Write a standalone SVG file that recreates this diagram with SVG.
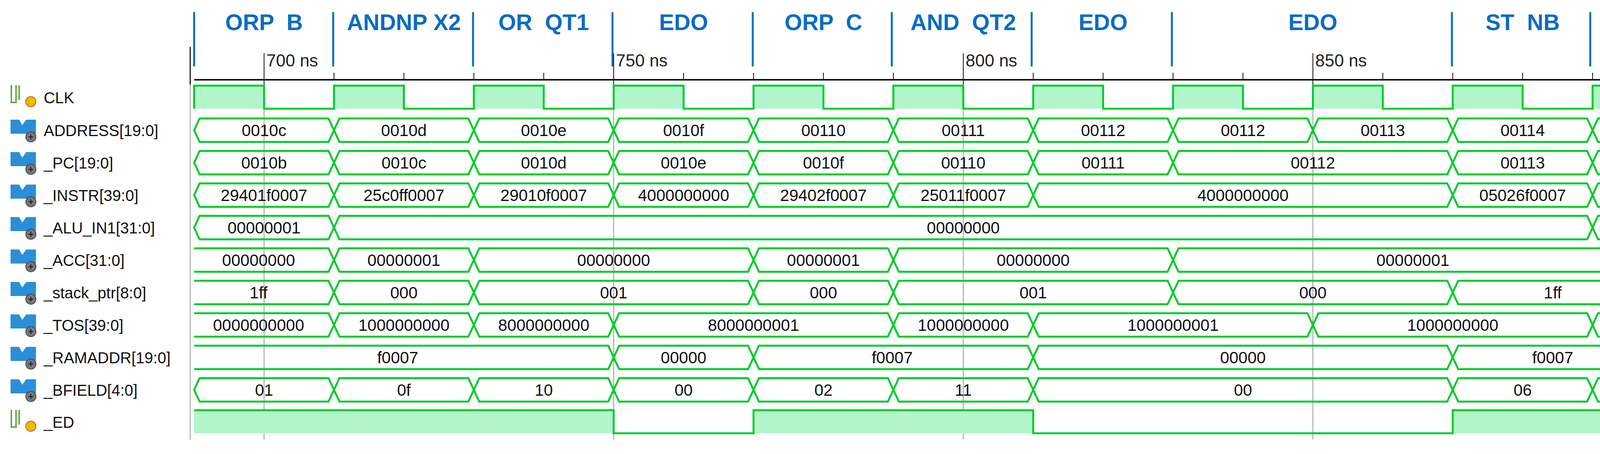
<svg xmlns="http://www.w3.org/2000/svg" width="4261" height="1161" viewBox="0 0 4261 1161">
<style>
.bus{fill:none;stroke:#00cc2a;stroke-width:5;stroke-linejoin:miter}
.sig{fill:#b3f5cb;stroke:none}
.wl{fill:none;stroke:#00cc2a;stroke-width:5}
.v{font-family:"Liberation Sans",Arial,sans-serif;font-size:42px;fill:#111;text-anchor:middle}
.vl{font-family:"Liberation Sans",Arial,sans-serif;font-size:40px;fill:#111}
.n{font-family:"Liberation Sans",Arial,sans-serif;font-size:40px;fill:#111}
.hd{font-family:"Liberation Sans",Arial,sans-serif;font-size:58px;font-weight:bold;fill:#0a6cc4;text-anchor:middle;white-space:pre}
.tl{font-family:"Liberation Sans",Arial,sans-serif;font-size:44px;fill:#222}
.bl{stroke:#0a6cc4;stroke-width:5}
.cur{stroke:#999;stroke-width:2}
.tk{stroke:#111;stroke-width:2}
.ib{fill:#2a8fd8}
.ic{fill:#777;stroke:#444;stroke-width:2}
</style>
<defs>
<g id="busicon"><path class="ib" d="M0 0 L22 0 L30 14 L40 0 L65 0 L65 36 L0 36 Z"/><circle class="ic" cx="52" cy="44" r="13"/><path d="M52 38 V50 M46 44 H58" stroke="#111" stroke-width="2"/></g>
<g id="wireicon"><path d="M2 2 V46 H14 V2 M22 2 V40" fill="none" stroke="#6aa84f" stroke-width="4"/><circle cx="52" cy="44" r="13" fill="#f4b400" stroke="#a07000" stroke-width="2"/></g>
</defs>

<g id="header">
<g class="bl">
<line x1="497" y1="31" x2="497" y2="170"/><line x1="853" y1="31" x2="853" y2="170"/><line x1="1211" y1="31" x2="1211" y2="170"/><line x1="1568" y1="31" x2="1568" y2="170"/><line x1="1927" y1="31" x2="1927" y2="170"/><line x1="2283" y1="31" x2="2283" y2="170"/><line x1="2641" y1="31" x2="2641" y2="170"/><line x1="3000" y1="31" x2="3000" y2="170"/><line x1="3717" y1="31" x2="3717" y2="170"/><line x1="4071" y1="31" x2="4071" y2="170"/>
</g>
<text class="hd" x="676" y="77">ORP  B</text>
<text class="hd" x="1034" y="77">ANDNP X2</text>
<text class="hd" x="1392" y="77">OR  QT1</text>
<text class="hd" x="1750" y="77">EDO</text>
<text class="hd" x="2108" y="77">ORP  C</text>
<text class="hd" x="2466" y="77">AND  QT2</text>
<text class="hd" x="2824" y="77">EDO</text>
<text class="hd" x="3361" y="77">EDO</text>
<text class="hd" x="3898" y="77">ST  NB</text>
</g>

<g id="axis">
<line x1="487" y1="120" x2="487" y2="216" stroke="#111" stroke-width="3"/>
<line x1="487" y1="216" x2="487" y2="1124" class="cur"/>
<line x1="497" y1="204" x2="4231" y2="204" stroke="#111" stroke-width="4"/>
<g class="tk">
<line x1="855" y1="186" x2="855" y2="204"/><line x1="1034" y1="186" x2="1034" y2="204"/><line x1="1213" y1="186" x2="1213" y2="204"/><line x1="1392" y1="186" x2="1392" y2="204"/><line x1="1750" y1="186" x2="1750" y2="204"/><line x1="1929" y1="186" x2="1929" y2="204"/><line x1="2108" y1="186" x2="2108" y2="204"/><line x1="2287" y1="186" x2="2287" y2="204"/><line x1="2645" y1="186" x2="2645" y2="204"/><line x1="2824" y1="186" x2="2824" y2="204"/><line x1="3003" y1="186" x2="3003" y2="204"/><line x1="3182" y1="186" x2="3182" y2="204"/><line x1="3540" y1="186" x2="3540" y2="204"/><line x1="3719" y1="186" x2="3719" y2="204"/><line x1="3898" y1="186" x2="3898" y2="204"/><line x1="4077" y1="186" x2="4077" y2="204"/>
<line x1="676" y1="136" x2="676" y2="216"/><line x1="1571" y1="136" x2="1571" y2="216"/><line x1="2466" y1="136" x2="2466" y2="216"/><line x1="3361" y1="136" x2="3361" y2="216"/>
</g>
<line x1="676" y1="216" x2="676" y2="1124" class="cur"/><line x1="1571" y1="216" x2="1571" y2="1124" class="cur"/><line x1="2466" y1="216" x2="2466" y2="1124" class="cur"/><line x1="3361" y1="216" x2="3361" y2="1124" class="cur"/>
<text class="tl" x="682" y="170">700 ns</text>
<text class="tl" x="1577" y="170">750 ns</text>
<text class="tl" x="2472" y="170">800 ns</text>
<text class="tl" x="3367" y="170">850 ns</text>
</g>

<g id="CLK">
<use href="#wireicon" x="27" y="216"/>
<text class="n" x="112" y="264">CLK</text>
<path class="sig" d="M497 219H676V278H497Z M855 219H1034V278H855Z M1213 219H1392V278H1213Z M1571 219H1750V278H1571Z M1929 219H2108V278H1929Z M2287 219H2466V278H2287Z M2645 219H2824V278H2645Z M3003 219H3182V278H3003Z M3361 219H3540V278H3361Z M3719 219H3898V278H3719Z M4077 219H4231V278H4077Z"/>
<path class="wl" d="M497 278V219H676V278H855V219H1034V278H1213V219H1392V278H1571V219H1750V278H1929V219H2108V278H2287V219H2466V278H2645V219H2824V278H3003V219H3182V278H3361V219H3540V278H3719V219H3898V278H4077V219H4231"/>
</g>

<g id="ADDRESS" transform="translate(0,303)">
<use href="#busicon" x="27" y="3"/>
<text class="n" x="112" y="45">ADDRESS[19:0]</text>
<path class="bus" d="M497 30L511 0H841L855 30L841 60H511Z M855 30L869 0H1199L1213 30L1199 60H869Z M1213 30L1227 0H1557L1571 30L1557 60H1227Z M1571 30L1585 0H1915L1929 30L1915 60H1585Z M1929 30L1943 0H2273L2287 30L2273 60H1943Z M2287 30L2301 0H2631L2645 30L2631 60H2301Z M2645 30L2659 0H2989L3003 30L2989 60H2659Z M3003 30L3017 0H3347L3361 30L3347 60H3017Z M3361 30L3375 0H3705L3719 30L3705 60H3375Z M3719 30L3733 0H4063L4077 30L4063 60H3733Z M4231 0H4091L4077 30L4091 60H4231"/>
<text class="v" x="676" y="45">0010c</text><text class="v" x="1034" y="45">0010d</text><text class="v" x="1392" y="45">0010e</text><text class="v" x="1750" y="45">0010f</text><text class="v" x="2108" y="45">00110</text><text class="v" x="2466" y="45">00111</text><text class="v" x="2824" y="45">00112</text><text class="v" x="3182" y="45">00112</text><text class="v" x="3540" y="45">00113</text><text class="v" x="3898" y="45">00114</text><text class="vl" x="4100" y="45">00115</text>
</g>

<g id="PC" transform="translate(0,386)">
<use href="#busicon" x="27" y="3"/>
<text class="n" x="112" y="45">_PC[19:0]</text>
<path class="bus" d="M497 30L511 0H841L855 30L841 60H511Z M855 30L869 0H1199L1213 30L1199 60H869Z M1213 30L1227 0H1557L1571 30L1557 60H1227Z M1571 30L1585 0H1915L1929 30L1915 60H1585Z M1929 30L1943 0H2273L2287 30L2273 60H1943Z M2287 30L2301 0H2631L2645 30L2631 60H2301Z M2645 30L2659 0H2989L3003 30L2989 60H2659Z M3003 30L3017 0H3705L3719 30L3705 60H3017Z M3719 30L3733 0H4063L4077 30L4063 60H3733Z M4231 0H4091L4077 30L4091 60H4231"/>
<text class="v" x="676" y="45">0010b</text><text class="v" x="1034" y="45">0010c</text><text class="v" x="1392" y="45">0010d</text><text class="v" x="1750" y="45">0010e</text><text class="v" x="2108" y="45">0010f</text><text class="v" x="2466" y="45">00110</text><text class="v" x="2824" y="45">00111</text><text class="v" x="3361" y="45">00112</text><text class="v" x="3898" y="45">00113</text><text class="vl" x="4100" y="45">00114</text>
</g>

<g id="INSTR" transform="translate(0,469)">
<use href="#busicon" x="27" y="3"/>
<text class="n" x="112" y="45">_INSTR[39:0]</text>
<path class="bus" d="M497 30L511 0H841L855 30L841 60H511Z M855 30L869 0H1199L1213 30L1199 60H869Z M1213 30L1227 0H1557L1571 30L1557 60H1227Z M1571 30L1585 0H1915L1929 30L1915 60H1585Z M1929 30L1943 0H2273L2287 30L2273 60H1943Z M2287 30L2301 0H2631L2645 30L2631 60H2301Z M2645 30L2659 0H3705L3719 30L3705 60H2659Z M3719 30L3733 0H4063L4077 30L4063 60H3733Z M4231 0H4091L4077 30L4091 60H4231"/>
<text class="v" x="676" y="45">29401f0007</text><text class="v" x="1034" y="45">25c0ff0007</text><text class="v" x="1392" y="45">29010f0007</text><text class="v" x="1750" y="45">4000000000</text><text class="v" x="2108" y="45">29402f0007</text><text class="v" x="2466" y="45">25011f0007</text><text class="v" x="3182" y="45">4000000000</text><text class="v" x="3898" y="45">05026f0007</text><text class="vl" x="4098" y="45">0100...</text>
</g>

<g id="ALU_IN1" transform="translate(0,552)">
<use href="#busicon" x="27" y="3"/>
<text class="n" x="112" y="45">_ALU_IN1[31:0]</text>
<path class="bus" d="M497 30L511 0H841L855 30L841 60H511Z M855 30L869 0H4063L4077 30L4063 60H869Z M4231 0H4091L4077 30L4091 60H4231"/>
<text class="v" x="676" y="45">00000001</text><text class="v" x="2466" y="45">00000000</text><text class="vl" x="4098" y="45">0000...</text>
</g>

<g id="ACC" transform="translate(0,635)">
<use href="#busicon" x="27" y="3"/>
<text class="n" x="112" y="45">_ACC[31:0]</text>
<path class="bus" d="M497 0H841L855 30L841 60H497 M855 30L869 0H1199L1213 30L1199 60H869Z M1213 30L1227 0H1915L1929 30L1915 60H1227Z M1929 30L1943 0H2273L2287 30L2273 60H1943Z M2287 30L2301 0H2989L3003 30L2989 60H2301Z M4231 0H3017L3003 30L3017 60H4231"/>
<text class="v" x="662" y="45">00000000</text><text class="v" x="1034" y="45">00000001</text><text class="v" x="1571" y="45">00000000</text><text class="v" x="2108" y="45">00000001</text><text class="v" x="2645" y="45">00000000</text><text class="v" x="3617" y="45">00000001</text>
</g>

<g id="stack_ptr" transform="translate(0,718)">
<use href="#busicon" x="27" y="3"/>
<text class="n" x="112" y="45">_stack_ptr[8:0]</text>
<path class="bus" d="M497 0H841L855 30L841 60H497 M855 30L869 0H1199L1213 30L1199 60H869Z M1213 30L1227 0H1915L1929 30L1915 60H1227Z M1929 30L1943 0H2273L2287 30L2273 60H1943Z M2287 30L2301 0H2989L3003 30L2989 60H2301Z M3003 30L3017 0H3705L3719 30L3705 60H3017Z M4231 0H3733L3719 30L3733 60H4231"/>
<text class="v" x="662" y="45">1ff</text><text class="v" x="1034" y="45">000</text><text class="v" x="1571" y="45">001</text><text class="v" x="2108" y="45">000</text><text class="v" x="2645" y="45">001</text><text class="v" x="3361" y="45">000</text><text class="v" x="3975" y="45">1ff</text>
</g>

<g id="TOS" transform="translate(0,801)">
<use href="#busicon" x="27" y="3"/>
<text class="n" x="112" y="45">_TOS[39:0]</text>
<path class="bus" d="M497 0H841L855 30L841 60H497 M855 30L869 0H1199L1213 30L1199 60H869Z M1213 30L1227 0H1557L1571 30L1557 60H1227Z M1571 30L1585 0H2273L2287 30L2273 60H1585Z M2287 30L2301 0H2631L2645 30L2631 60H2301Z M2645 30L2659 0H3347L3361 30L3347 60H2659Z M3361 30L3375 0H4063L4077 30L4063 60H3375Z M4231 0H4091L4077 30L4091 60H4231"/>
<text class="v" x="662" y="45">0000000000</text><text class="v" x="1034" y="45">1000000000</text><text class="v" x="1392" y="45">8000000000</text><text class="v" x="1929" y="45">8000000001</text><text class="v" x="2466" y="45">1000000000</text><text class="v" x="3003" y="45">1000000001</text><text class="v" x="3719" y="45">1000000000</text><text class="vl" x="4098" y="45">0000...</text>
</g>

<g id="RAMADDR" transform="translate(0,884)">
<use href="#busicon" x="27" y="3"/>
<text class="n" x="112" y="45">_RAMADDR[19:0]</text>
<path class="bus" d="M497 0H1557L1571 30L1557 60H497 M1571 30L1585 0H1915L1929 30L1915 60H1585Z M1929 30L1943 0H2631L2645 30L2631 60H1943Z M2645 30L2659 0H3705L3719 30L3705 60H2659Z M4231 0H3733L3719 30L3733 60H4231"/>
<text class="v" x="1018" y="45">f0007</text><text class="v" x="1750" y="45">00000</text><text class="v" x="2284" y="45">f0007</text><text class="v" x="3182" y="45">00000</text><text class="v" x="3975" y="45">f0007</text>
</g>

<g id="BFIELD" transform="translate(0,967)">
<use href="#busicon" x="27" y="3"/>
<text class="n" x="112" y="45">_BFIELD[4:0]</text>
<path class="bus" d="M497 30L511 0H841L855 30L841 60H511Z M855 30L869 0H1199L1213 30L1199 60H869Z M1213 30L1227 0H1557L1571 30L1557 60H1227Z M1571 30L1585 0H1915L1929 30L1915 60H1585Z M1929 30L1943 0H2273L2287 30L2273 60H1943Z M2287 30L2301 0H2631L2645 30L2631 60H2301Z M2645 30L2659 0H3705L3719 30L3705 60H2659Z M3719 30L3733 0H4063L4077 30L4063 60H3733Z M4231 0H4091L4077 30L4091 60H4231"/>
<text class="v" x="676" y="45">01</text><text class="v" x="1034" y="45">0f</text><text class="v" x="1392" y="45">10</text><text class="v" x="1750" y="45">00</text><text class="v" x="2108" y="45">02</text><text class="v" x="2466" y="45">11</text><text class="v" x="3182" y="45">00</text><text class="v" x="3898" y="45">06</text><text class="v" x="4163" y="45">01</text>
</g>

<g id="ED">
<use href="#wireicon" x="27" y="1046"/>
<text class="n" x="112" y="1094">_ED</text>
<path class="sig" d="M497 1049H1571V1108H497Z M1929 1049H2645V1108H1929Z M3719 1049H4231V1108H3719Z"/>
<path class="wl" d="M497 1049H1571V1108H1929V1049H2645V1108H3719V1049H4231"/>
</g>
</svg>
